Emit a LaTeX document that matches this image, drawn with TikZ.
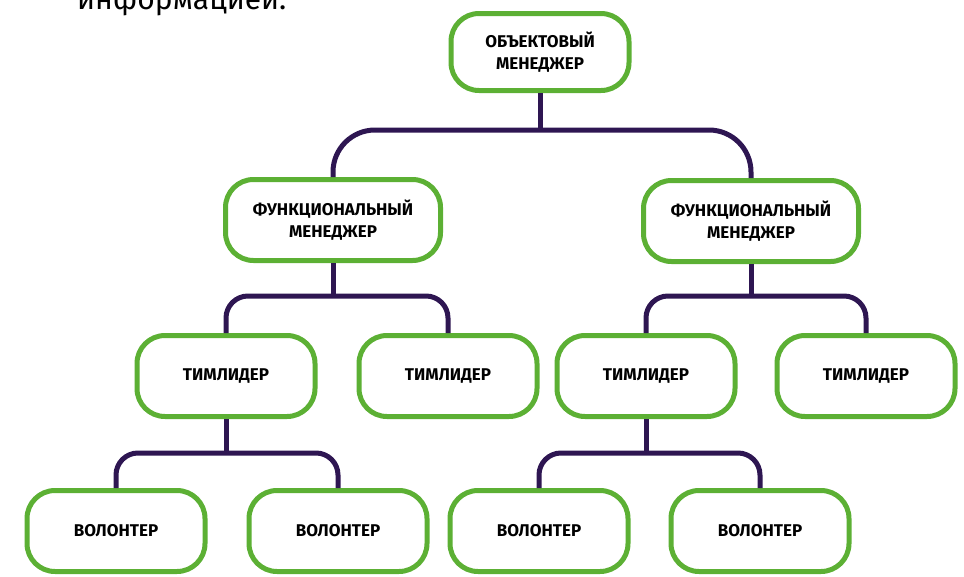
\documentclass[tikz,border=0pt]{standalone}
\usepackage{fontspec}
\setmainfont{Fira Sans}
\usetikzlibrary{positioning}
\definecolor{leafgreen}{RGB}{92,176,52}
\definecolor{darkplum}{RGB}{46,22,82}

\begin{document}
\begin{tikzpicture}[x=1pt,y=-1pt,
boxnode/.style={rectangle, rounded corners=28pt, draw=leafgreen, fill=white, line width=5pt,
minimum width=178pt, minimum height=81pt, inner sep=0pt, align=center,
font=\fontsize{17}{22}\selectfont\bfseries,
},
widenode/.style={boxnode, minimum width=215pt,
},
link/.style={draw=darkplum, line width=5pt, rounded corners=22pt,
}]
\useasboundingbox (0,0) rectangle (964,576);
\clip (0,0) rectangle (964,576);
%Text
\node[anchor=base west, inner sep=0pt, font=\fontsize{30}{34}\selectfont] (note) at (77,9) {информацией.};
%Nodes
\node[boxnode, minimum height=77pt]  (om)  at (540,52)  {ОБЪЕКТОВЫЙ\\МЕНЕДЖЕР};
\node[widenode] (fm1) at (333,220) {ФУНКЦИОНАЛЬНЫЙ\\МЕНЕДЖЕР};
\node[widenode] (fm2) at (751,221) {ФУНКЦИОНАЛЬНЫЙ\\МЕНЕДЖЕР};
\node[boxnode]  (tl1) at (226,376) {ТИМЛИДЕР};
\node[boxnode]  (tl2) at (448,376) {ТИМЛИДЕР};
\node[boxnode]  (tl3) at (646,376) {ТИМЛИДЕР};
\node[boxnode]  (tl4) at (866,376) {ТИМЛИДЕР};
\node[boxnode]  (vol1) at (116,531) {ВОЛОНТЕР};
\node[boxnode]  (vol2) at (338,531) {ВОЛОНТЕР};
\node[boxnode]  (vol3) at (539,531) {ВОЛОНТЕР};
\node[boxnode]  (vol4) at (760,531) {ВОЛОНТЕР};
%Lines
\coordinate (bar1) at (0,130);
\coordinate (bar2) at (0,296);
\coordinate (bar3) at (0,453);
\draw[link] (om.south) -- (om.south |- bar1);
\draw[link, rounded corners=42pt] (fm1.north) -- (fm1.north |- bar1) -- (fm2.north |- bar1) -- (fm2.north);
\draw[link] (fm1.south) -- (fm1.south |- bar2);
\draw[link] (tl1.north) -- (tl1.north |- bar2) -- (tl2.north |- bar2) -- (tl2.north);
\draw[link] (fm2.south) -- (fm2.south |- bar2);
\draw[link] (tl3.north) -- (tl3.north |- bar2) -- (tl4.north |- bar2) -- (tl4.north);
\draw[link] (tl1.south) -- (tl1.south |- bar3);
\draw[link] (vol1.north) -- (vol1.north |- bar3) -- (vol2.north |- bar3) -- (vol2.north);
\draw[link] (tl3.south) -- (tl3.south |- bar3);
\draw[link] (vol3.north) -- (vol3.north |- bar3) -- (vol4.north |- bar3) -- (vol4.north);
\end{tikzpicture}
\end{document}
